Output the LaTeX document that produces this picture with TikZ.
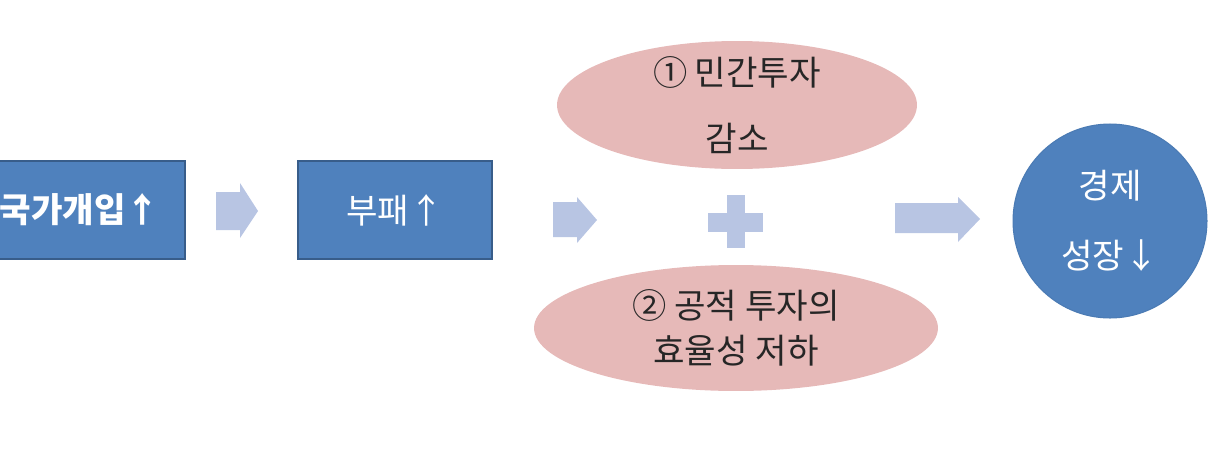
\documentclass[tikz,border=0pt]{standalone}
\usepackage{fontspec}
\setmainfont{Noto Sans CJK KR}
\usepackage{xcolor}
\definecolor{flowblue}{RGB}{79,129,189}
\definecolor{flowedge}{RGB}{56,93,138}
\definecolor{ovalpink}{RGB}{230,185,184}
\definecolor{arrowblue}{RGB}{184,197,227}
\usepackage{tikz}
\usetikzlibrary{shapes.geometric}

\tikzset{
  stagebox/.style={draw=flowedge, line width=1.2pt, fill=flowblue, text=white,
    minimum height=1.96cm, inner sep=0pt, font=\fontsize{19.5}{23}\selectfont},
  pinkoval/.style={ellipse, fill=ovalpink, draw=none, inner sep=0pt},
  ovaltext/.style={align=center, text=black!85, font=\fontsize{19.5}{23}\selectfont},
  resultball/.style={circle, fill=flowblue, draw=flowblue!95!black, line width=0.6pt,
    minimum size=3.88cm, inner sep=0pt, text=white, align=center,
    font=\fontsize{19.5}{23}\selectfont},
  flowarrow/.style={fill=arrowblue, draw=none}
}

\begin{document}
\begin{tikzpicture}[x=0.02cm, y=-0.02cm]
  \useasboundingbox (0,0) rectangle (1227,450);
  % first two steps
  \node[stagebox, minimum width=4.2cm] (state) at (80,210) {\bfseries 국가개입↑};
  \node[stagebox, minimum width=3.88cm] (corrupt) at (395,210) {부패↑};
  % the two effects
  \node[pinkoval, minimum width=7.2cm, minimum height=2.56cm] (private) at (737,105) {};
  \node[ovaltext] (privatetxt) at (private) {① 민간투자\\[15pt]감소};
  \node[pinkoval, minimum width=8.08cm, minimum height=2.52cm] (public) at (736,328) {};
  \node[ovaltext] (publictxt) at (public) {② 공적 투자의\\[2.5pt]효율성 저하};
  % result
  \node[resultball] (growth) at (1110,221) {경제\\[17pt]성장↓};
  % block arrows
  \fill[flowarrow] (216,192) -- (240,192) -- (240,183) -- (258,211) -- (240,238)
    -- (240,230) -- (216,230) -- cycle;
  \fill[flowarrow] (553,202) -- (577,202) -- (577,197) -- (597,220) -- (577,243)
    -- (577,237) -- (553,237) -- cycle;
  \fill[flowarrow] (895,203) -- (958,203) -- (958,197) -- (980,219) -- (958,242)
    -- (958,233) -- (895,233) -- cycle;
  % plus sign
  \fill[flowarrow] (727,195) rectangle (745,248);
  \fill[flowarrow] (708,213) rectangle (763,232);
\end{tikzpicture}
\end{document}
